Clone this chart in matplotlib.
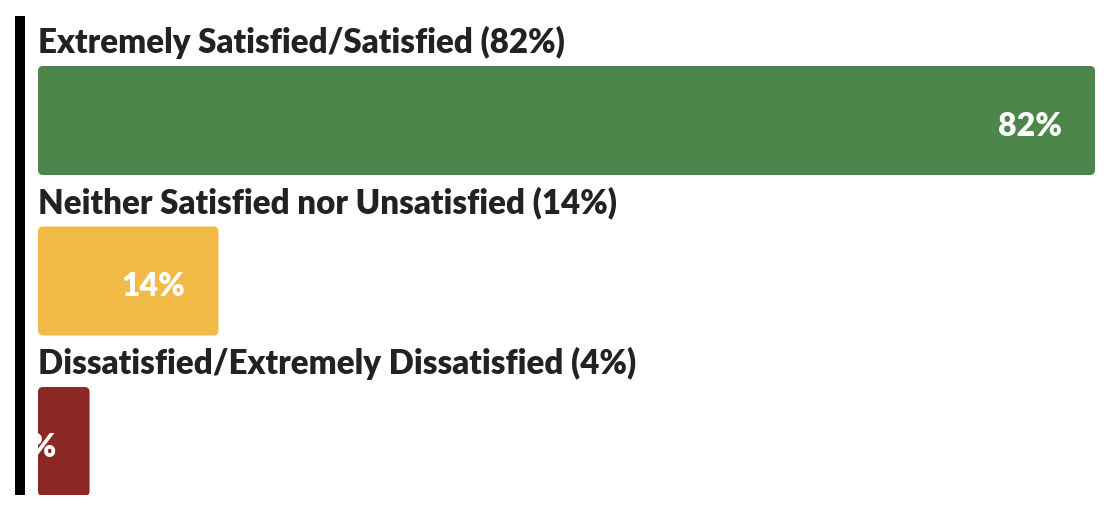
import matplotlib
matplotlib.use("Agg")
import matplotlib.pyplot as plt
from matplotlib.patches import FancyBboxPatch

categories = ["Extremely Satisfied/Satisfied (82%)",
              "Neither Satisfied nor Unsatisfied (14%)",
              "Dissatisfied/Extremely Dissatisfied (4%)"]
values = [82, 14, 4]
value_labels = ["82%", "14%", "4%"]
colors = ["#4d864a", "#f1ba47", "#8b2823"]

W, H, DPI = 1106, 520, 100
fig = plt.figure(figsize=(W / DPI, H / DPI), dpi=DPI)
fig.patch.set_facecolor("white")

ax_left, ax_right = 38, 1095
ax_top, ax_bot = 16, 495
ax = fig.add_axes([ax_left / W, 1 - ax_bot / H, (ax_right - ax_left) / W, (ax_bot - ax_top) / H])

unit = 160.5
bar_h = 109 / unit
ypos = list(range(len(values)))
ax.set_xlim(0, 82)
ax.set_ylim(2 + (495 - 441.5) / unit, -104.5 / unit)

bars = ax.barh(ypos, values, height=bar_h, color=colors)
# rounded corners
xpp = 82 / (ax_right - ax_left)
ypp = (2 + (495 - 441.5) / unit + 104.5 / unit) / (ax_bot - ax_top)
patches = []
for b, c in zip(bars, colors):
    b.set_visible(False)
    p = FancyBboxPatch((b.get_x(), b.get_y()), b.get_width(), b.get_height(),
                       boxstyle="round,pad=0,rounding_size=%f" % (5 * xpp),
                       mutation_aspect=ypp / xpp, facecolor=c, edgecolor="none")
    ax.add_patch(p)
    patches.append(p)

fam = ["Lato", "DejaVu Sans"]
px = 72 / DPI
for i, (cat, v, lab) in enumerate(zip(categories, values, value_labels)):
    ax.annotate(cat, xy=(0, i - bar_h / 2), xytext=(0, 13 * px), textcoords="offset points",
                ha="left", va="baseline", fontsize=23.8, fontweight="heavy",
                color="#222222", family=fam, annotation_clip=False)
    t = ax.annotate(lab, xy=(v, i), xytext=(-33 * px, -6 * px), textcoords="offset points",
                    ha="right", va="center", fontsize=23, fontweight="heavy",
                    color="white", family=fam)
    t.set_clip_box(ax.bbox)
    t.set_clip_on(True)

for s in ["top", "right", "bottom"]:
    ax.spines[s].set_visible(False)
ax.spines["left"].set_position(("outward", 18 * px))
ax.spines["left"].set_linewidth(10 * px)
ax.spines["left"].set_color("black")
ax.spines["left"].set_capstyle("butt")
ax.set_xticks([])
ax.set_yticks([])
ax.set_facecolor("none")

fig.savefig("out.png", dpi=DPI, facecolor="white")
